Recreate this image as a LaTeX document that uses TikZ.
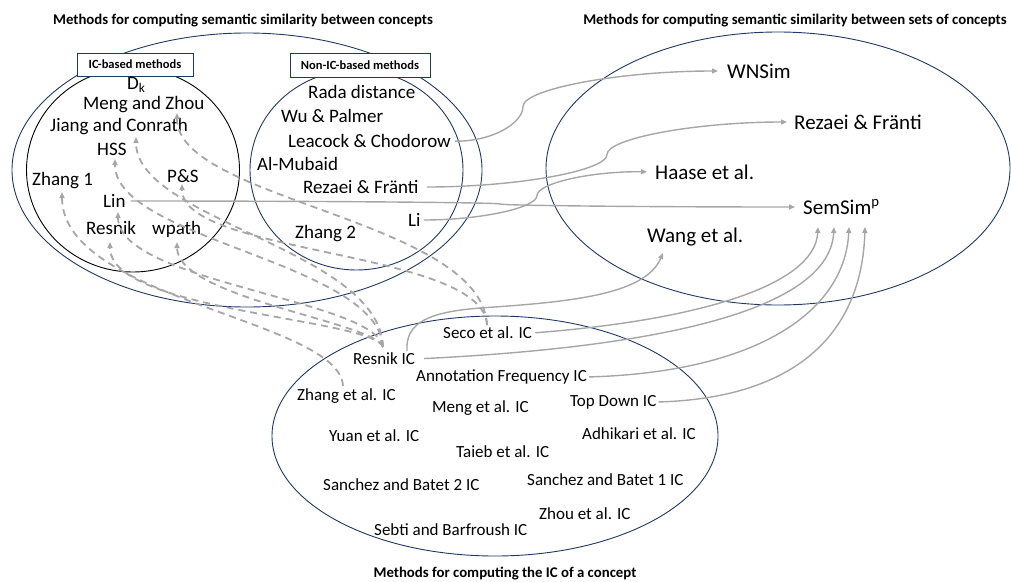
\documentclass[tikz,border=0pt]{standalone}
\usepackage{fontspec}
\setmainfont{Carlito}
\usetikzlibrary{arrows.meta}
\definecolor{navy}{RGB}{32,56,100}
\definecolor{lgray}{RGB}{166,166,166}
\begin{document}
\begin{tikzpicture}[x=1pt,y=-1pt,
  lbl/.style={anchor=west,inner sep=0pt,font=\fontsize{19}{22}\selectfont},
  rlbl/.style={anchor=west,inner sep=0pt,font=\fontsize{21}{25}\selectfont},
  blbl/.style={anchor=west,inner sep=0pt,font=\fontsize{17}{20}\selectfont},
  ttl/.style={inner sep=0pt,font=\fontsize{14.8}{17}\selectfont\bfseries},
  catbox/.style={draw=navy,fill=white,line width=0.9pt,inner sep=0pt,font=\fontsize{12.5}{15}\selectfont\bfseries},
  grp/.style={draw=navy,line width=0.9pt},
  conn/.style={draw=lgray,line width=1.4pt,-{Triangle[length=6pt,width=5pt]}},
  dconn/.style={draw=lgray,line width=1.8pt,dash pattern=on 7pt off 5pt,-{Triangle[length=6pt,width=5pt]}},
]
\useasboundingbox (0,0) rectangle (1011,581);
% group outlines
\draw[grp] (247,170) ellipse (235 and 137);
\draw[black,line width=0.9pt] (133,170) ellipse (106.5 and 102);
\draw[grp] (356.5,170) ellipse (106.5 and 100);
\draw[grp] (778,168.5) ellipse (232 and 136.5);
\draw[grp] (495,436) ellipse (223 and 120);
% category boxes
\node[catbox,minimum width=116pt,minimum height=23pt] (icbox) at (135,64.5) {IC-based methods};
\node[catbox,minimum width=140pt,minimum height=24pt] (nicbox) at (360,65) {Non-IC-based methods};
% titles
\node[ttl] (t1) at (243,21) {Methods for computing semantic similarity between concepts};
\node[ttl] (t2) at (795,21) {Methods for computing semantic similarity between sets of concepts};
\node[ttl] (t3) at (505,574) {Methods for computing the IC of a concept};
% IC-based
\node[lbl] (dk) at (127,85) {D\textsubscript{k}};
\node[lbl] (mz) at (83,105) {Meng and Zhou};
\node[lbl] (jc) at (50,127) {Jiang and Conrath};
\node[lbl] (hss) at (97,149) {HSS};
\node[lbl] (z1) at (32,181) {Zhang 1};
\node[lbl] (ps) at (167,176) {P\&S};
\node[lbl] (lin) at (103,201) {Lin};
\node[lbl] (res) at (86,228) {Resnik};
\node[lbl] (wp) at (152,229) {wpath};
% Non-IC
\node[lbl] (rada) at (308,92) {Rada distance};
\node[lbl] (wu) at (281,116) {Wu \& Palmer};
\node[lbl] (lc) at (288,141) {Leacock \& Chodorow};
\node[lbl] (am) at (257,164) {Al-Mubaid};
\node[lbl] (rf) at (303,187) {Rezaei \& Fränti};
\node[lbl] (li) at (408,220) {Li};
\node[lbl] (z2) at (295,234) {Zhang 2};
% sets of concepts
\node[rlbl] (wn) at (727,71) {WNSim};
\node[rlbl] (rf2) at (794,122) {Rezaei \& Fränti};
\node[rlbl] (haase) at (655,172) {Haase et al.};
\node[rlbl] (ss) at (803,207) {SemSim\textsuperscript{p}};
\node[rlbl] (wang) at (647,237) {Wang et al.};
% IC methods
\node[blbl] (seco) at (443,333) {Seco et al. IC};
\node[blbl] (ric) at (353,359) {Resnik IC};
\node[blbl] (af) at (416,377) {Annotation Frequency IC};
\node[blbl] (zic) at (297,396) {Zhang et al. IC};
\node[blbl] (mic) at (432,408) {Meng et al. IC};
\node[blbl] (td) at (570,402) {Top Down IC};
\node[blbl] (yic) at (329,436) {Yuan et al. IC};
\node[blbl] (adh) at (582,434) {Adhikari et al. IC};
\node[blbl] (tai) at (456,452) {Taieb et al. IC};
\node[blbl] (sb2) at (323,485) {Sanchez and Batet 2 IC};
\node[blbl] (sb1) at (527,480) {Sanchez and Batet 1 IC};
\node[blbl] (zhou) at (539,514) {Zhou et al. IC};
\node[blbl] (sebti) at (374,530) {Sebti and Barfroush IC};
% connector end points
\coordinate (ss1) at (818,227);
\coordinate (ss2) at (834,227);
\coordinate (ss3) at (849,227);
\coordinate (ss4) at (865,227);
\coordinate (wangtip) at (663,253);
\coordinate (ricw) at (407,351);
\coordinate (rictop) at (383,347);
\coordinate (secotop) at (487,325);
\coordinate (zictop) at (343,386);
\coordinate (mzt) at (177,113);
\coordinate (jct) at (136,137);
\coordinate (hsst) at (115,159);
\coordinate (pst) at (182,184);
\coordinate (z1t) at (62,192);
\coordinate (lint) at (118,212);
\coordinate (rest) at (110,242);
\coordinate (wpt) at (177,242);
% solid connectors
\draw[conn,shorten <=4pt,shorten >=9pt] (lc.east) .. controls (490,142) and (523,124) .. (523,106.5) .. controls (523,89) and (620,71) .. (wn.west);
\draw[conn,shorten <=8pt,shorten >=7pt] (rf.east) .. controls (517,187) and (607,170.75) .. (607,154.5) .. controls (607,138.25) and (697,122) .. (rf2.west);
\draw[conn,shorten <=3pt,shorten >=8pt] (li.east) .. controls (481,220) and (537,207.75) .. (537,195.5) .. controls (537,183.25) and (592,171) .. (haase.west);
\draw[conn,shorten <=5pt,shorten >=8pt] (lin.east) .. controls (315,201) and (500,202.5) .. (500,204) .. controls (500,205.5) and (647,207) .. (ss.west);
\draw[conn,shorten <=3pt] (seco.east) .. controls (700,320) and (815,285) .. (ss1);
\draw[conn,shorten <=9pt] (ric.east) .. controls (700,345) and (830,300) .. (ss2);
\draw[conn,shorten <=2pt] (af.east) .. controls (760,372) and (845,310) .. (ss3);
\draw[conn,shorten <=2pt] (td.east) .. controls (800,398) and (862,330) .. (ss4);
\draw[conn] (ricw) .. controls (405,322) and (430,312) .. (480,308) .. controls (570,302) and (645,295) .. (wangtip);
% dashed connectors
\draw[dconn] (rictop) .. controls (376,300) and (118,282) .. (lint);
\draw[dconn] (rictop) .. controls (372,318) and (110,312) .. (rest);
\draw[dconn] (rictop) .. controls (378,262) and (115,240) .. (hsst);
\draw[dconn] (rictop) .. controls (375,322) and (177,298) .. (wpt);
\draw[dconn] (rictop) .. controls (380,250) and (136,220) .. (jct);
\draw[dconn] (secotop) .. controls (482,220) and (177,200) .. (mzt);
\draw[dconn] (secotop) .. controls (484,250) and (182,255) .. (pst);
\draw[dconn] (zictop) .. controls (340,320) and (62,300) .. (z1t);
\end{tikzpicture}
\end{document}
